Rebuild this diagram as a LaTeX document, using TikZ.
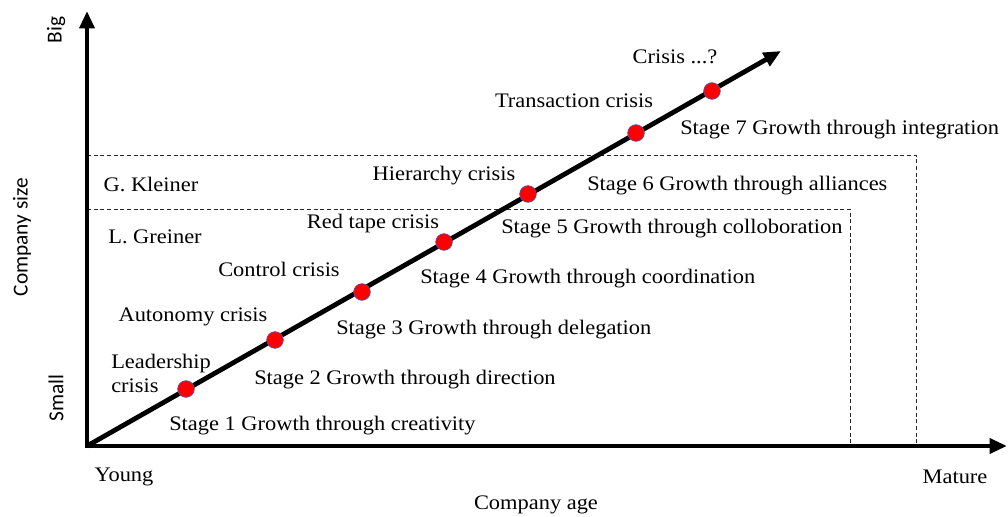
\documentclass[tikz,border=0pt]{standalone}
\usepackage{fontspec}
\setmainfont[FakeStretch=1.085]{Liberation Serif}
\newfontfamily\axisfont{Carlito}
\usetikzlibrary{arrows.meta}

\begin{document}
\begin{tikzpicture}[x=0.75pt,y=-0.75pt,
  crisis/.style={circle, fill=red, draw=blue!35!gray, line width=0.5pt, inner sep=0pt, minimum size=12.5pt},
  lbl/.style={font=\fontsize{15.5}{17}\selectfont, inner sep=0pt},
  sidelbl/.style={font=\axisfont\fontsize{16}{18}\selectfont, inner sep=0pt, rotate=90},
  axis/.style={line width=3.6pt, {Triangle[length=13pt,width=11pt]}-{Triangle[length=13pt,width=11pt]}},
  growth/.style={line width=3.6pt, -{Triangle[length=13pt,width=11pt]}},
  region/.style={dash pattern=on 3pt off 2pt, line width=0.7pt, black!85}]

  \useasboundingbox (0,0) rectangle (1008,517);

  % Coordinates
  \coordinate (origin) at (87,446);
  \coordinate (ytip) at (87,11);
  \coordinate (xtip) at (1007,446);
  \coordinate (gtip) at (781,51);

  % Regions
  \draw[region] (87,155) -| (916,446);
  \draw[region] (87,209) -| (850,446);
  \node[lbl] (kleiner) at (151,184) {G. Kleiner};
  \node[lbl] (greiner) at (155,237) {L. Greiner};

  % Axes
  \draw[axis] (xtip) -- (origin) -- (ytip);
  \draw[growth] (origin) -- (gtip);

  % Axis labels
  \node[sidelbl] (big) at (56,30) {Big};
  \node[sidelbl] (size) at (22,237) {Company size};
  \node[sidelbl] (small) at (56,398) {Small};
  \node[lbl] (young) at (124,477) {Young};
  \node[lbl] (age) at (536,505) {Company age};
  \node[lbl] (mature) at (955,477) {Mature};

  % Crises
  \node[crisis] (c1) at (186,389) {};
  \node[crisis] (c2) at (275,340) {};
  \node[crisis] (c3) at (362,292) {};
  \node[crisis] (c4) at (444,242) {};
  \node[crisis] (c5) at (528,194) {};
  \node[crisis] (c6) at (636,133) {};
  \node[crisis] (c7) at (712,91) {};

  \node[lbl, align=left, anchor=west] (lead) at (111,373) {Leadership\\[1pt]crisis};
  \node[lbl] (auto) at (193,317) {Autonomy crisis};
  \node[lbl] (ctrl) at (279,269) {Control crisis};
  \node[lbl] (red) at (373,224) {Red tape crisis};
  \node[lbl] (hier) at (444,176) {Hierarchy crisis};
  \node[lbl] (trans) at (574,101) {Transaction crisis};
  \node[lbl] (next) at (675,57) {Crisis ...?};

  % Stages
  \node[lbl, anchor=west] (s1) at (169,426) {Stage 1 Growth through creativity};
  \node[lbl, anchor=west] (s2) at (254,380) {Stage 2 Growth through direction};
  \node[lbl, anchor=west] (s3) at (336,330) {Stage 3 Growth through delegation};
  \node[lbl, anchor=west] (s4) at (420,279) {Stage 4 Growth through coordination};
  \node[lbl, anchor=west] (s5) at (501,229) {Stage 5 Growth through colloboration};
  \node[lbl, anchor=west] (s6) at (587,186) {Stage 6 Growth through alliances};
  \node[lbl, anchor=west] (s7) at (680,130) {Stage 7 Growth through integration};
\end{tikzpicture}
\end{document}
